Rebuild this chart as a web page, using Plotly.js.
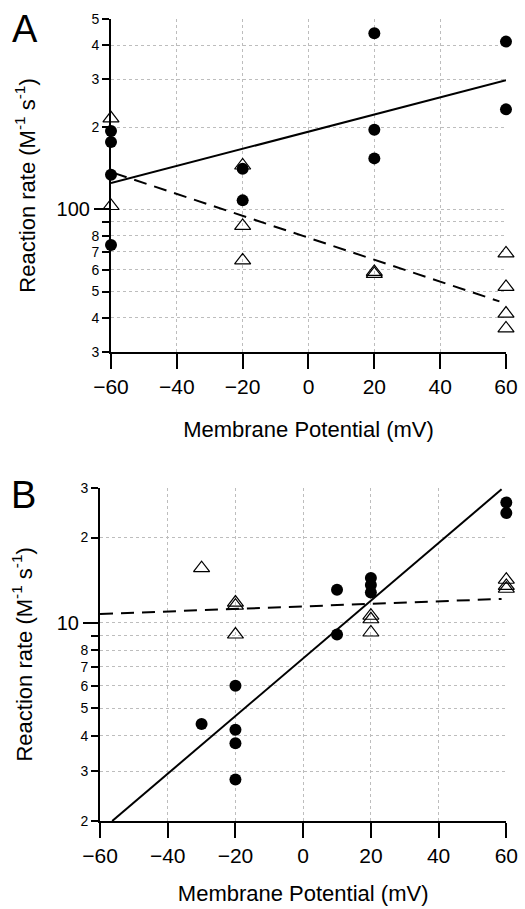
<!DOCTYPE html>
<html>
<head>
<meta charset="utf-8">
<script src="https://cdn.plot.ly/plotly-3.0.1.min.js"></script>
<style>html,body{margin:0;padding:0;background:#fff;} #chart{width:525px;height:909px;}</style>
</head>
<body>
<div id="chart"></div>
<script>
// ---- Panel A data ----
const aCircleX = [-60, -60, -60, -60, -20, -20, 20, 20, 20, 60, 60];
const aCircleY = [194, 177, 134, 74, 141, 108, 443, 196, 154, 413, 233];
const aTriX = [-60, -60, -20, -20, -20, 20, 20, 60, 60, 60, 60];
const aTriY = [216, 103, 145, 87, 65, 59, 58, 69, 52, 41.5, 36.6];
const aSolidX = [-60, 60];
const aSolidY = [125, 298];
const aDashX = [-59, 58];
const aDashY = [136, 46];

// ---- Panel B data ----
const bCircleX = [-30, -20, -20, -20, -20, 10, 10, 20, 20, 20, 60, 60];
const bCircleY = [4.4, 6.0, 4.2, 3.76, 2.8, 13.1, 9.1, 14.4, 13.6, 12.8, 26.6, 24.4];
const bTriX = [-30, -20, -20, -20, 20, 20, 20, 60, 60, 60];
const bTriY = [15.6, 11.8, 11.5, 9.1, 10.6, 10.3, 9.25, 14.2, 13.5, 13.2];
const bSolidX = [-56.4, 58.6];
const bSolidY = [2.0, 29.6];
const bDashX = [-60, 58.6];
const bDashY = [10.75, 12.15];

// ---- Tick labels ----
const xTicks = [-60, -40, -20, 0, 20, 40, 60];
const aYTickVals = [30, 40, 50, 60, 70, 80, 200, 300, 400, 500];
const aYTickText = ['3', '4', '5', '6', '7', '8', '2', '3', '4', '5'];
const aYUnlabeled = [90];
const aYMajorVals = [100];
const aYMajorText = ['100'];
const bYTickVals = [2, 3, 4, 5, 6, 7, 8, 20, 30];
const bYTickText = ['2', '3', '4', '5', '6', '7', '8', '2', '3'];
const bYUnlabeled = [9];
const bYMajorVals = [10];
const bYMajorText = ['10'];

const FONT = 'Liberation Sans, Arial, Helvetica, sans-serif';
const xTitle = 'Membrane Potential (mV)';
const yTitle = 'Reaction rate (M<sup>-1</sup> s<sup>-1</sup>)';

function fitLine(x, y, xa, ya, dash) {
  return {x: x, y: y, xaxis: xa, yaxis: ya, mode: 'lines', type: 'scatter',
    line: {color: '#000', width: 2, dash: dash}, hoverinfo: 'skip', showlegend: false};
}
function circles(x, y, xa, ya) {
  return {x: x, y: y, xaxis: xa, yaxis: ya, mode: 'markers', type: 'scatter', cliponaxis: false,
    marker: {symbol: 'circle', size: 12, color: '#000'}, showlegend: false};
}
function tris(x, y, xa, ya) {
  return {x: x, y: y, xaxis: xa, yaxis: ya, mode: 'markers', type: 'scatter', cliponaxis: false,
    marker: {symbol: 'triangle-up-open', size: 14, color: '#000', line: {width: 1.2, color: '#000'}}, showlegend: false};
}
function holder(xa, ya) {
  return {x: [], y: [], xaxis: xa, yaxis: ya, mode: 'markers', type: 'scatter', showlegend: false, hoverinfo: 'skip'};
}

const data = [
  holder('x', 'y3'),
  holder('x2', 'y4'),
  fitLine(aSolidX, aSolidY, 'x', 'y', 'solid'),
  fitLine(aDashX, aDashY, 'x', 'y', '13px,8px'),
  tris(aTriX, aTriY, 'x', 'y'),
  circles(aCircleX, aCircleY, 'x', 'y'),
  fitLine(bSolidX, bSolidY, 'x2', 'y2', 'solid'),
  fitLine(bDashX, bDashY, 'x2', 'y2', '13px,8px'),
  tris(bTriX, bTriY, 'x2', 'y2'),
  circles(bCircleX, bCircleY, 'x2', 'y2')
];

const gridStyle = {showgrid: true, gridcolor: '#bdbdbd', griddash: 'dot', gridwidth: 1};

function xAxis(domain, anchor, standoff) {
  return Object.assign({
    domain: domain, anchor: anchor, range: [-60, 60], tickvals: xTicks,
    ticks: 'outside', ticklen: 15, tickwidth: 2, tickcolor: '#000',
    showline: true, linecolor: '#000', linewidth: 2, zeroline: false,
    tickfont: {family: FONT, size: 21, color: '#000'},
    title: {text: xTitle, font: {family: FONT, size: 22, color: '#000'}, standoff: standoff}
  }, gridStyle);
}
function yAxis(domain, anchor, range, vals, text, unlabeled, standoff) {
  return Object.assign({
    domain: domain, anchor: anchor, type: 'log', range: range,
    tickvals: vals, ticktext: text,
    ticks: 'outside', ticklen: 7, tickwidth: 2, tickcolor: '#000',
    minor: {tickmode: 'array', tickvals: unlabeled, ticks: 'outside', ticklen: 7, tickwidth: 2, tickcolor: '#000',
            showgrid: true, gridcolor: '#bdbdbd', griddash: 'dot', gridwidth: 1},
    showline: true, linecolor: '#000', linewidth: 2, zeroline: false,
    tickfont: {family: FONT, size: 14, color: '#000'},
    title: {text: yTitle, font: {family: FONT, size: 22, color: '#000'}, standoff: standoff}
  }, gridStyle);
}
function yMajor(overlay, anchor, range, vals, text) {
  return Object.assign({
    overlaying: overlay, anchor: anchor, side: 'left', type: 'log', range: range,
    tickvals: vals, ticktext: text, ticks: 'outside', ticklen: 16, tickwidth: 2, tickcolor: '#000',
    showline: false, zeroline: false,
    tickfont: {family: FONT, size: 20, color: '#000'}
  }, gridStyle);
}

const aRange = [Math.log10(30), Math.log10(500)];
const bRange = [Math.log10(2), Math.log10(30)];

const layout = {
  width: 525, height: 909,
  margin: {l: 0, r: 0, t: 0, b: 0},
  paper_bgcolor: '#fff', plot_bgcolor: '#fff',
  showlegend: false,
  xaxis: xAxis([0.2114, 0.9638], 'y', 24),
  yaxis: yAxis([0.6128, 0.9791], 'x', aRange, aYTickVals, aYTickText, aYUnlabeled, 50),
  yaxis3: yMajor('y', 'x', aRange, aYMajorVals, aYMajorText),
  xaxis2: xAxis([0.1905, 0.9644], 'y2', 19),
  yaxis2: yAxis([0.0968, 0.4635], 'x2', bRange, bYTickVals, bYTickText, bYUnlabeled, 42),
  yaxis4: yMajor('y2', 'x2', bRange, bYMajorVals, bYMajorText),
  annotations: [
    {text: 'A', xref: 'paper', yref: 'paper', x: 0.019, y: 0.9681, xanchor: 'left', yanchor: 'middle',
     showarrow: false, font: {family: FONT, size: 38, color: '#000'}},
    {text: 'B', xref: 'paper', yref: 'paper', x: 0.017, y: 0.4554, xanchor: 'left', yanchor: 'middle',
     showarrow: false, font: {family: FONT, size: 38, color: '#000'}}
  ]
};

Plotly.newPlot('chart', data, layout, {staticPlot: true, displayModeBar: false});
</script>
</body>
</html>
